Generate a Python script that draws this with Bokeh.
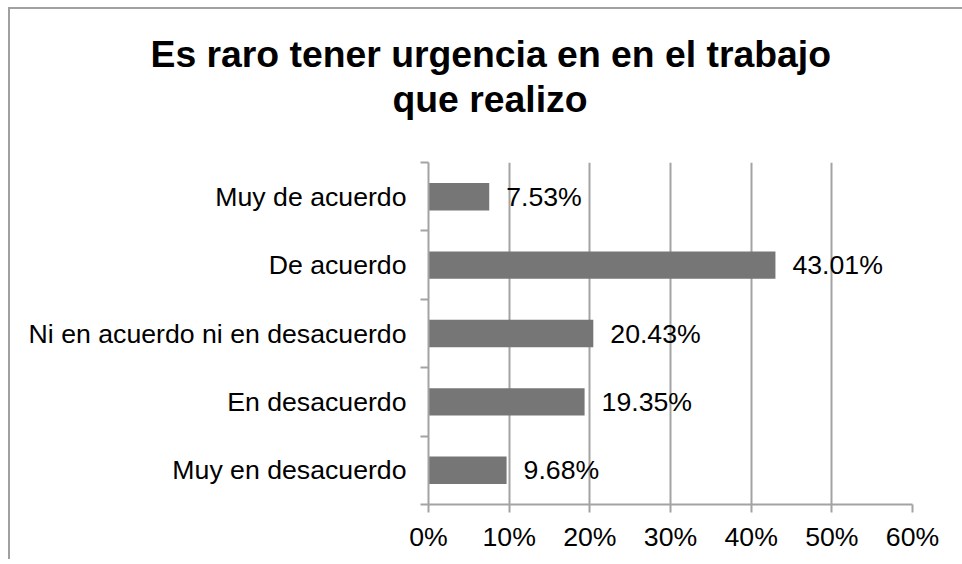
from bokeh.plotting import figure
from bokeh.models import ColumnDataSource, Range1d, FixedTicker, Title
from bokeh.embed import file_html
from bokeh.resources import INLINE
from bokeh.core.properties import value

# ---- data (bottom to top, as drawn) ----
categories = ["Muy en desacuerdo", "En desacuerdo", "Ni en acuerdo ni en desacuerdo",
              "De acuerdo", "Muy de acuerdo"]
percentages = [9.68, 19.35, 20.43, 43.01, 7.53]
x_ticks = [0, 10, 20, 30, 40, 50, 60]
x_tick_labels = ["0%", "10%", "20%", "30%", "40%", "50%", "60%"]
title_lines = ["Es raro tener urgencia en en el trabajo", "que realizo"]

FONT = "Liberation Sans"
GRID = "#a3a3a3"
BAR = "#767676"

ypos = [i + 0.5 for i in range(len(categories))]
src = ColumnDataSource(dict(
    y=ypos, v=percentages,
    lab=["{:.2f}%".format(v) for v in percentages],
))

p = figure(width=954, height=552, output_backend="svg", toolbar_location=None,
           x_range=Range1d(x_ticks[0], x_ticks[-1]), y_range=Range1d(0, len(categories)),
           min_border_left=420, min_border_right=50, min_border_top=155, min_border_bottom=55)
p.outline_line_color = None
p.background_fill_color = "white"
p.border_fill_color = None
p.styles = {"margin-left": "8px", "margin-top": "7px",
            "box-shadow": "inset 2px 2px 0 0 #a0a0a0"}

p.hbar(y="y", right="v", left=0, height=0.4, source=src, fill_color=BAR, line_color=None)
p.text(x="v", y="y", text="lab", source=src, x_offset=17, text_align="left",
       text_baseline="middle", text_font=value(FONT), text_font_size="20pt", text_color="black")

# x axis
xa = p.xaxis[0]
xa.ticker = FixedTicker(ticks=x_ticks, minor_ticks=[])
xa.major_label_overrides = {t: l for t, l in zip(x_ticks, x_tick_labels)}
xa.axis_line_color = GRID
xa.axis_line_width = 2
xa.major_tick_line_color = GRID
xa.major_tick_line_width = 2
xa.major_tick_out = 8
xa.major_tick_in = 0
xa.minor_tick_line_color = None
xa.major_label_text_font = FONT
xa.major_label_text_font_size = "20pt"
xa.major_label_text_color = "black"
xa.major_label_standoff = 9

# y axis
ya = p.yaxis[0]
ya.ticker = FixedTicker(ticks=ypos, minor_ticks=list(range(len(categories) + 1)))
ya.major_label_overrides = {y: c for y, c in zip(ypos, categories)}
ya.axis_line_color = GRID
ya.axis_line_width = 2
ya.major_tick_line_color = None
ya.major_tick_out = 0
ya.major_tick_in = 0
ya.minor_tick_line_color = GRID
ya.minor_tick_line_width = 2
ya.minor_tick_out = 8
ya.minor_tick_in = 0
ya.major_label_text_font = FONT
ya.major_label_text_font_size = "20pt"
ya.major_label_text_color = "black"
ya.major_label_standoff = 14

p.xgrid.ticker = FixedTicker(ticks=x_ticks)
p.xgrid.grid_line_color = GRID
p.xgrid.grid_line_width = 2
p.ygrid.grid_line_color = None

# spacer between plot area and title
p.add_layout(Title(text=" ", text_font_size="1px", standoff=40), "above")
# title (two lines, second line added first so it sits nearest the plot)
offsets = [-278, -36]
standoffs = [2, 0]
for line, off, so in reversed(list(zip(title_lines, offsets, standoffs))):
    p.add_layout(Title(text=line, align="left", offset=off, standoff=so,
                       text_font=FONT, text_font_size="28pt", text_font_style="bold",
                       text_color="black"), "above")

open("out.html", "w").write(file_html(p, INLINE))
